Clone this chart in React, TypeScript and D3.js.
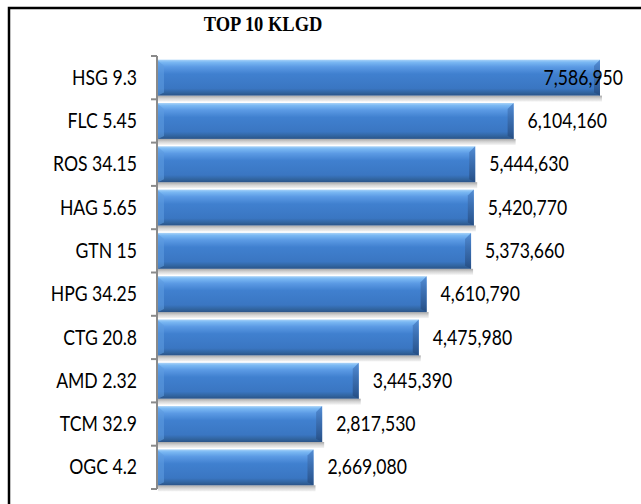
import React from "react";
import * as d3 from "d3";

const title = "TOP 10 KLGD";
const categories = ["HSG 9.3", "FLC 5.45", "ROS 34.15", "HAG 5.65", "GTN 15", "HPG 34.25", "CTG 20.8", "AMD 2.32", "TCM 32.9", "OGC 4.2"];
const values = [7586950, 6104160, 5444630, 5420770, 5373660, 4610790, 4475980, 3445390, 2817530, 2669080];

const W = 641;
const H = 504;
const axisX = 157;
const plotTop = 56;
const plotBottom = 489;
const plotRight = 623;
const labelFont = "Lato, 'Open Sans', sans-serif";
const sx = 0.8;

export default function App() {
  const y = d3.scaleBand<string>().domain(categories).range([plotTop, plotBottom]).padding(0);
  const x = d3.scaleLinear().domain([0, 7586950]).range([axisX + 1, 600]);
  const fmt = d3.format(",");
  const step = y.step();
  const barH = step * 0.83;
  const fs = 22;
  const estW = (s: string) => s.length * 0.5 * fs * sx;

  return (
    <svg width={W} height={H} style={{ position: "absolute", left: 0, top: 0, background: "#fff" }}>
      <defs>
        <linearGradient id="barG" x1="0" y1="0" x2="0" y2="1">
          <stop offset="0" stopColor="#a9d3f8" />
          <stop offset="0.07" stopColor="#7ab8f3" />
          <stop offset="0.2" stopColor="#5b9ae4" />
          <stop offset="0.4" stopColor="#4080cf" />
          <stop offset="0.8" stopColor="#3a76c2" />
          <stop offset="0.92" stopColor="#31649f" />
          <stop offset="1" stopColor="#2a5388" />
        </linearGradient>
        <linearGradient id="shadowG" x1="0" y1="0" x2="0" y2="1">
          <stop offset="0" stopColor="#a8a8a8" />
          <stop offset="0.5" stopColor="#d6d6d6" />
          <stop offset="1" stopColor="#f4f4f4" />
        </linearGradient>
        <linearGradient id="bevelG" x1="0" y1="0" x2="0" y2="1">
          <stop offset="0" stopColor="#4d86cf" />
          <stop offset="1" stopColor="#244b80" />
        </linearGradient>
      </defs>

      <path d={`M9,${H} V8 H${W}`} fill="none" stroke="#000" strokeWidth={2.5} />

      <text transform={`translate(263,31) scale(0.88,1)`} textAnchor="middle" fontFamily="'Liberation Serif', 'Times New Roman', serif" fontWeight="bold" fontSize={21} fill="#000">
        {title}
      </text>

      {categories.map((c, i) => {
        const yc = (y(c) as number) + step / 2;
        const by = yc - barH / 2;
        const x0 = x(0);
        const xe = x(values[i]);
        return (
          <g key={c}>
            <rect x={x0} y={by + barH} width={xe - x0 + 2} height={6} fill="url(#shadowG)" />
            <rect x={x0} y={by} width={xe - x0} height={barH} fill="url(#barG)" />
            <polygon points={`${x0},${by + 1} ${x0 + 6},${by + 6} ${x0 + 6},${by + barH - 3} ${x0},${by + barH}`} fill="#5e9be0" opacity={0.6} />
            <polygon points={`${xe - 6},${by + 6} ${xe},${by} ${xe},${by + barH} ${xe - 6},${by + barH - 3}`} fill="url(#bevelG)" opacity={0.85} />
          </g>
        );
      })}

      <line x1={axisX} x2={axisX} y1={plotTop} y2={plotBottom} stroke="#8a8a8a" strokeWidth={2} />
      {[...categories.map((c) => y(c) as number), plotBottom].map((t, i) => (
        <line key={i} x1={axisX - 6} x2={axisX} y1={t} y2={t} stroke="#8a8a8a" strokeWidth={2} />
      ))}

      {categories.map((c) => {
        const yc = (y(c) as number) + step / 2;
        return (
          <text key={c} transform={`translate(137,${yc + 1.5}) scale(${sx},1)`} textAnchor="end" dominantBaseline="middle" fontFamily={labelFont} fontSize={fs} fill="#000">
            {c}
          </text>
        );
      })}

      {categories.map((c, i) => {
        const yc = (y(c) as number) + step / 2;
        const label = fmt(values[i]);
        const lx = x(values[i]) + 14;
        const over = lx + estW(label) > plotRight;
        return (
          <text key={c} transform={`translate(${over ? plotRight : lx},${yc + 1.5}) scale(${sx},1)`} textAnchor={over ? "end" : "start"} dominantBaseline="middle" fontFamily={labelFont} fontSize={fs} fill="#000">
            {label}
          </text>
        );
      })}
    </svg>
  );
}
